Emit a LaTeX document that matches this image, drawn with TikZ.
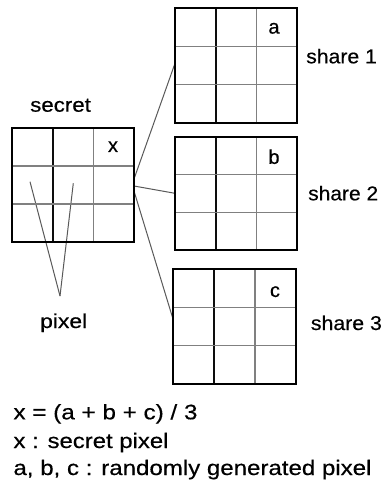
\documentclass[tikz,border=0pt]{standalone}
\usepackage{fontspec}
\setmainfont[FakeBold=0.4]{Liberation Sans}
\usetikzlibrary{calc}
\newcommand\fitw[2]{\resizebox{#1pt}{\height}{#2}}
\tikzset{
  gridbox/.style={draw=none, inner sep=0pt, outer sep=0pt},
  border/.style={line width=2pt, black},
  darkline/.style={line width=2pt, black!95},
  lightline/.style={line width=1.4pt, black!50},
  conn/.style={line width=1pt, black!65},
  lbl/.style={inner sep=0pt, font=\fontsize{20}{24}\selectfont, anchor=base west},
  foot/.style={inner sep=0pt, font=\fontsize{21}{25}\selectfont, anchor=base west},
  cell/.style={inner sep=0pt, font=\fontsize{20}{24}\selectfont},
}
\newcommand\pxgrid[5]{%
  \node[gridbox, minimum width={#4-#2}, minimum height={#5-#3}] (#1) at ({(#2+#4)/2},{(#3+#5)/2}) {};
  \draw[darkline] ($(#1.north west)!{1/3}!(#1.north east)$) -- ($(#1.south west)!{1/3}!(#1.south east)$);
  \draw[lightline] ($(#1.north west)!{2/3}!(#1.north east)$) -- ($(#1.south west)!{2/3}!(#1.south east)$);
  \draw[lightline] ($(#1.north west)!{1/3}!(#1.south west)$) -- ($(#1.north east)!{1/3}!(#1.south east)$);
  \draw[lightline] ($(#1.north west)!{2/3}!(#1.south west)$) -- ($(#1.north east)!{2/3}!(#1.south east)$);
  \draw[border] (#1.north west) rectangle (#1.south east);
}
\begin{document}
\begin{tikzpicture}[x=1pt,y=-1pt]
\fill[white] (0,0) rectangle (384,483);
\useasboundingbox (0,0) rectangle (384,483);

% connectors (drawn first)
\coordinate (o1) at (134,179);
\coordinate (o2) at (134,186);
\coordinate (o3) at (134,191);
\coordinate (e1) at (175,63.3);
\coordinate (e2) at (175,193.3);
\coordinate (e3) at (173.3,320);
\coordinate (p1) at (30,181.7);
\coordinate (p2) at (73.3,183.3);
\coordinate (pt) at (60,296);
\draw[conn] (o1) -- (e1);
\draw[conn] (o2) -- (e2);
\draw[conn] (o3) -- (e3);
\draw[conn] (p1) -- (pt);
\draw[conn] (p2) -- (pt);

\pxgrid{S}{12}{128}{134}{242}
\pxgrid{A}{175}{8.3}{297}{122.7}
\pxgrid{B}{175}{136.7}{297}{250}
\pxgrid{C}{173.3}{269.3}{296}{384}

\node[cell] (xs) at (113,146.7) {x};
\node[cell] (xa) at (274,28.3) {a};
\node[cell] (xb) at (274,156.7) {b};
\node[cell] (xc) at (275,291.7) {c};

\node[lbl] (secretlbl) at (30,111.7) {\fitw{60.7}{secret}};
\node[lbl] (sh1) at (306,63.3) {\fitw{70.7}{share 1}};
\node[lbl] (sh2) at (308,200.3) {\fitw{70}{share 2}};
\node[lbl] (sh3) at (310.7,330) {\fitw{71}{share 3}};
\node[lbl] (pix) at (40,328) {\fitw{47}{pixel}};

\node[foot] (f1) at (13.3,419.3) {\fitw{184}{x = (a + b + c) / 3}};
\node[foot] (f2) at (13.3,448) {\fitw{155}{x : secret pixel}};
\node[foot] (f3) at (13.3,475) {\fitw{358}{a, b, c : randomly generated pixel}};
\end{tikzpicture}
\end{document}
